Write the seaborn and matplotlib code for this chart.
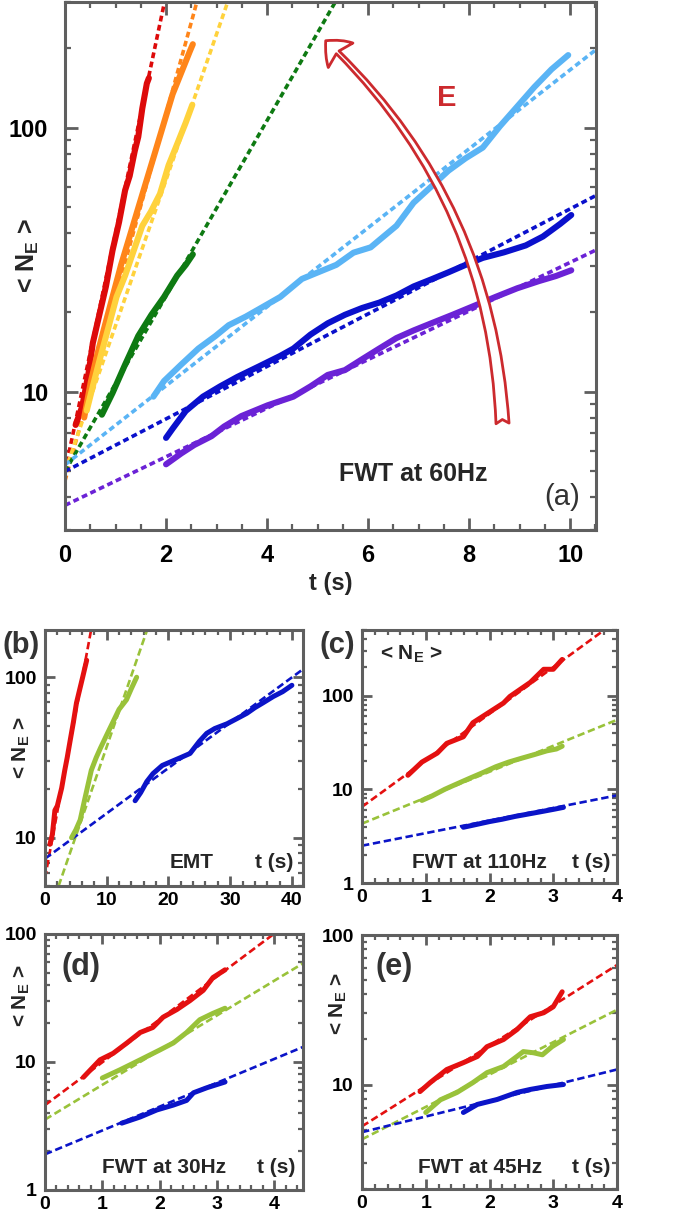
import matplotlib
matplotlib.use("Agg")
import matplotlib.pyplot as plt
from matplotlib.ticker import (MultipleLocator, LogLocator, NullFormatter,
                               FixedLocator, FixedFormatter, FormatStrFormatter)
import seaborn as sns

# ---------------- Panel (a): FWT at 60 Hz ----------------
a_red_t = [0.21, 0.34, 0.47, 0.55, 0.68, 0.81, 0.94, 1.07, 1.19, 1.28, 1.38, 1.45, 1.53, 1.62, 1.66]
a_red_n = [7.5, 8.8, 11.9, 15.3, 19.6, 25.1, 34.3, 44.0, 58.1, 65.8, 81.7, 92.5, 118.6, 147.5, 154.5]
a_orange_t = [0.38, 0.51, 0.64, 0.77, 0.94, 1.11, 1.28, 1.45, 1.62, 1.79, 1.96, 2.13, 2.30, 2.47, 2.53]
a_orange_n = [8.0, 10.9, 13.9, 17.3, 22.9, 30.3, 38.8, 49.8, 63.8, 81.7, 104.8, 134.3, 161.8, 195.0, 207.6]
a_yellow_t = [0.43, 0.55, 0.68, 0.85, 1.02, 1.19, 1.36, 1.53, 1.70, 1.88, 2.05, 2.22, 2.39, 2.52]
a_yellow_n = [8.5, 10.5, 13.1, 17.3, 22.9, 27.6, 34.3, 42.6, 48.2, 56.3, 72.2, 86.9, 104.8, 122.4]
a_green_t = [0.73, 0.94, 1.19, 1.45, 1.71, 1.96, 2.22, 2.39, 2.53]
a_green_n = [8.2, 9.9, 12.7, 16.3, 19.6, 22.9, 27.6, 30.3, 33.2]
a_lblue_t = [1.75, 1.96, 2.30, 2.64, 2.98, 3.24, 3.58, 3.84, 4.26, 4.69, 5.03, 5.37, 5.71, 6.05,
             6.22, 6.56, 6.90, 7.25, 7.59, 7.93, 8.27, 8.61, 8.95, 9.29, 9.63, 9.96]
a_lblue_n = [9.6, 11.0, 12.7, 14.6, 16.3, 17.9, 19.3, 20.6, 22.9, 26.8, 28.5, 30.3, 33.7, 35.3,
             37.6, 42.6, 52.1, 60.0, 68.9, 76.8, 84.3, 101.6, 120.5, 142.9, 166.8, 188.8]
a_blue_t = [2.00, 2.13, 2.39, 2.73, 3.07, 3.41, 3.84, 4.26, 4.52, 4.86, 5.20, 5.54, 5.88, 6.22,
            6.56, 6.90, 7.25, 7.59, 7.93, 8.27, 8.69, 9.12, 9.46, 9.80, 10.02]
a_blue_n = [6.7, 7.26, 8.47, 9.6, 10.5, 11.4, 12.5, 13.7, 14.6, 16.5, 18.2, 19.6, 20.8, 21.8,
            23.2, 25.1, 26.7, 28.4, 30.3, 32.2, 33.8, 35.9, 38.8, 43.3, 46.8]
a_purple_t = [2.00, 2.30, 2.56, 2.90, 3.15, 3.49, 4.01, 4.52, 4.86, 5.20, 5.54, 5.88, 6.22, 6.56,
              6.90, 7.25, 7.67, 8.10, 8.52, 8.95, 9.38, 9.72, 10.02]
a_purple_n = [5.32, 5.85, 6.3, 6.8, 7.4, 8.1, 8.9, 9.6, 10.5, 11.6, 12.1, 13.3, 14.6, 16.0,
              17.1, 18.2, 19.6, 21.2, 22.9, 24.7, 26.3, 27.5, 28.9]
# exponential fits (straight lines in log scale): end points
a_red_fit_t, a_red_fit_n = [0.0, 1.97], [5.0, 300.0]
a_orange_fit_t, a_orange_fit_n = [0.0, 2.61], [4.6, 300.0]
a_yellow_fit_t, a_yellow_fit_n = [0.0, 3.22], [5.0, 300.0]
a_green_fit_t, a_green_fit_n = [0.0, 5.35], [5.0, 300.0]
a_lblue_fit_t, a_lblue_fit_n = [0.0, 10.51], [5.3, 198.0]
a_blue_fit_t, a_blue_fit_n = [0.0, 10.51], [5.0, 55.5]
a_purple_fit_t, a_purple_fit_n = [0.0, 10.51], [3.72, 34.5]

# ---------------- Panel (b): EMT ----------------
b_red_t = [0.8, 1.2, 1.6, 2.0, 2.7, 3.2, 3.6, 4.05, 4.6, 5.1, 5.6, 6.1, 6.75]
b_red_n = [9.1, 10.5, 14.8, 15.8, 20.4, 26.3, 31.6, 39.8, 52.5, 69.2, 83.2, 100.0, 127.6]
b_green_t = [4.3, 5.0, 5.7, 6.5, 7.5, 8.3, 9.0, 10.0, 11.0, 12.0, 13.2, 14.0, 14.85]
b_green_n = [10.0, 11.2, 12.9, 17.8, 26.3, 31.6, 36.3, 43.7, 52.5, 63.1, 72.4, 85.1, 100.0]
b_blue_t = [14.6, 15.5, 16.5, 17.5, 19.0, 20.8, 22.0, 23.5, 25.0, 26.2, 27.5, 29.5, 31.0, 32.7,
            34.0, 35.3, 37.0, 38.5, 40.0]
b_blue_n = [17.0, 19.1, 22.4, 25.1, 28.2, 30.2, 31.6, 33.5, 39.8, 44.7, 47.9, 51.3, 55.0, 59.6,
            64.6, 69.2, 75.9, 81.3, 89.1]
b_red_fit_t, b_red_fit_n = [0.0, 7.5], [5.6, 200.0]
b_green_fit_t, b_green_fit_n = [2.2, 16.6], [5.0, 200.0]
b_blue_fit_t, b_blue_fit_n = [0.0, 41.5], [7.4, 110.0]

# ---------------- Panel (c): FWT at 110 Hz ----------------
c_red_t = [0.72, 0.94, 1.18, 1.33, 1.59, 1.74, 2.06, 2.22, 2.32, 2.64, 2.85, 3.0, 3.14]
c_red_n = [14.1, 19.5, 24.3, 30.9, 36.3, 51.3, 70.8, 83.2, 97.7, 138.0, 190.5, 190.5, 242.7]
c_green_t = [0.94, 1.1, 1.3, 1.5, 1.7, 1.9, 2.1, 2.3, 2.5, 2.7, 2.9, 3.05, 3.14]
c_green_n = [7.6, 8.5, 10.0, 11.5, 13.2, 15.1, 17.4, 19.5, 21.4, 23.4, 25.7, 26.9, 28.8]
c_blue_t = [1.59, 1.8, 2.0, 2.2, 2.4, 2.6, 2.8, 3.0, 3.16]
c_blue_n = [3.93, 4.22, 4.52, 4.79, 5.13, 5.43, 5.75, 6.1, 6.41]
c_red_fit_t, c_red_fit_n = [0.0, 3.8], [6.5, 500.0]
c_green_fit_t, c_green_fit_n = [0.0, 4.0], [4.3, 55.0]
c_blue_fit_t, c_blue_fit_n = [0.0, 4.0], [2.5, 8.6]

# ---------------- Panel (d): FWT at 30 Hz ----------------
d_red_t = [0.67, 0.96, 1.19, 1.43, 1.66, 1.88, 2.06, 2.3, 2.53, 2.76, 2.93, 3.14]
d_red_n = [7.6, 10.4, 11.7, 14.1, 17.0, 18.6, 22.4, 25.7, 30.2, 36.3, 45.7, 52.5]
d_green_t = [1.0, 1.31, 1.66, 2.0, 2.24, 2.47, 2.7, 2.93, 3.14]
d_green_n = [7.5, 8.7, 10.4, 12.4, 14.1, 17.0, 21.4, 24.0, 26.3]
d_blue_t = [1.34, 1.66, 1.95, 2.24, 2.47, 2.59, 2.83, 3.14]
d_blue_n = [3.33, 3.72, 4.22, 4.61, 5.01, 5.75, 6.31, 6.98]
d_red_fit_t, d_red_fit_n = [0.0, 3.99], [4.6, 100.0]
d_green_fit_t, d_green_fit_n = [0.0, 4.5], [3.55, 59.0]
d_blue_fit_t, d_blue_fit_n = [0.0, 4.5], [1.9, 13.1]

# ---------------- Panel (e): FWT at 45 Hz ----------------
e_red_t = [0.91, 1.07, 1.33, 1.59, 1.81, 1.96, 2.22, 2.43, 2.64, 2.85, 3.0, 3.14]
e_red_n = [8.97, 10.3, 12.6, 14.0, 15.4, 17.9, 20.0, 23.3, 28.4, 30.2, 33.1, 41.7]
e_green_t = [1.0, 1.23, 1.49, 1.74, 1.96, 2.22, 2.43, 2.53, 2.69, 2.83, 2.98, 3.16]
e_green_n = [6.5, 7.9, 8.85, 10.3, 12.0, 13.2, 15.4, 16.6, 16.3, 15.8, 17.9, 20.0]
e_blue_t = [1.59, 1.81, 2.12, 2.43, 2.64, 2.9, 3.16]
e_blue_n = [6.5, 7.36, 7.94, 8.85, 9.27, 9.7, 10.0]
e_red_fit_t, e_red_fit_n = [0.0, 4.0], [5.25, 63.0]
e_green_fit_t, e_green_fit_n = [0.0, 4.0], [4.3, 31.6]
e_blue_fit_t, e_blue_fit_n = [0.0, 4.0], [4.8, 12.6]

# ---------------- styling ----------------
sns.set_theme(style="white")
plt.rcParams.update({
    "font.family": ["Liberation Sans", "DejaVu Sans"],
    "font.weight": "bold",
    "mathtext.fontset": "custom",
    "mathtext.rm": "Liberation Sans:bold",
    "mathtext.it": "Liberation Sans:bold",
    "mathtext.bf": "Liberation Sans:bold",
})

SPINE = "#5f5f5f"
RED, ORANGE, YELLOW, GREEN = "#dd0a0a", "#ff8519", "#ffd23c", "#0e7a12"
LBLUE, BLUE, PURPLE = "#5ab4f5", "#0a10cc", "#6b22d6"
S_RED, S_GREEN, S_BLUE = "#e41010", "#99c23a", "#0b14c8"
YLAB = r"< N$_{\mathrm{E}}$ >"

fig = plt.figure(figsize=(6.75, 12.22), dpi=100)


def curve(ax, t, n, color, lw, dashed=False, dash=(2, 1)):
    kw = dict(x=t, y=n, ax=ax, color=color, linewidth=lw, sort=False,
              estimator=None, legend=False)
    if dashed:
        sns.lineplot(**kw, linestyle=(0, dash), zorder=2)
    else:
        sns.lineplot(**kw, solid_capstyle="round", solid_joinstyle="round", zorder=3)


def style(ax, xlim, ylim, xmaj, xmin, yt, ytl, lsize, majlen, minlen, padx, pady):
    ax.set_yscale("log")
    ax.set_xlim(*xlim)
    ax.set_ylim(*ylim)
    ax.xaxis.set_major_locator(MultipleLocator(xmaj))
    ax.xaxis.set_minor_locator(MultipleLocator(xmin))
    ax.xaxis.set_major_formatter(FormatStrFormatter("%d"))
    ax.yaxis.set_major_locator(FixedLocator(yt))
    ax.yaxis.set_major_formatter(FixedFormatter(ytl))
    ax.yaxis.set_minor_locator(LogLocator(base=10, subs=range(2, 10), numticks=30))
    ax.yaxis.set_minor_formatter(NullFormatter())
    for sp in ax.spines.values():
        sp.set_color(SPINE)
        sp.set_linewidth(2.2)
    ax.tick_params(which="major", direction="in", length=majlen, width=2.0, color=SPINE,
                   top=True, right=True, bottom=True, left=True, labelsize=lsize,
                   labelcolor="black")
    ax.tick_params(which="minor", direction="in", length=minlen, width=1.6, color=SPINE,
                   top=True, right=True, bottom=True, left=True)
    ax.tick_params(axis="x", which="major", pad=padx)
    ax.tick_params(axis="y", which="major", pad=pady)
    ax.grid(False)
    ax.set_xlabel("")
    ax.set_ylabel("")


# ---------------- (a) ----------------
axa = fig.add_axes([65 / 675, 1 - 530 / 1222, 531 / 675, 528 / 1222])
for t, n, c in [(a_red_fit_t, a_red_fit_n, RED), (a_orange_fit_t, a_orange_fit_n, ORANGE),
                (a_yellow_fit_t, a_yellow_fit_n, YELLOW), (a_green_fit_t, a_green_fit_n, GREEN),
                (a_lblue_fit_t, a_lblue_fit_n, LBLUE), (a_blue_fit_t, a_blue_fit_n, BLUE),
                (a_purple_fit_t, a_purple_fit_n, PURPLE)]:
    curve(axa, t, n, c, 2.6, dashed=True, dash=(1.6, 1.0))
for t, n, c in [(a_red_t, a_red_n, RED), (a_orange_t, a_orange_n, ORANGE),
                (a_yellow_t, a_yellow_n, YELLOW), (a_green_t, a_green_n, GREEN),
                (a_lblue_t, a_lblue_n, LBLUE), (a_blue_t, a_blue_n, BLUE),
                (a_purple_t, a_purple_n, PURPLE)]:
    curve(axa, t, n, c, 4.4)
style(axa, (0, 10.51), (3.0, 300.0), 2, 0.5, [10, 100], ["10", "100"], 17, 9, 4, 10, 12)
axa.set_xlabel("t (s)", fontsize=17, fontweight="bold", labelpad=4)
axa.set_ylabel(YLAB, fontsize=18, fontweight="bold")
axa.yaxis.set_label_coords(-0.045, 0.52)
axa.text(6.9, 4.9, "FWT at 60Hz", fontsize=18, fontweight="bold", ha="center", va="center")
axa.text(9.83, 4.0, "(a)", fontsize=21, fontweight="normal", color="#333333",
         ha="center", va="center")
axa.text(7.56, 130, "E", fontsize=21, fontweight="bold", color="#cc2a2e",
         ha="center", va="center")
axa.annotate("", xy=(5.16, 214), xytext=(8.66, 7.6), xycoords="data",
             arrowprops=dict(arrowstyle="fancy,head_length=0.75,head_width=1.25,tail_width=0.47",
                             connectionstyle="arc3,rad=0.2", facecolor="white",
                             edgecolor="#cc2a2e", linewidth=2, mutation_scale=20,
                             shrinkA=0, shrinkB=0))

# ---------------- small panels ----------------
SM_TICK = 14
SM_LAB = 15


def small_panel(rect, fits, sols, xlim, ylim, xmaj, xmin, yt, ytl):
    ax = fig.add_axes(rect)
    for t, n, c in fits:
        curve(ax, t, n, c, 1.9, dashed=True, dash=(2.8, 1.4))
    for t, n, c in sols:
        curve(ax, t, n, c, 3.6)
    style(ax, xlim, ylim, xmaj, xmin, yt, ytl, SM_TICK, 7, 3.5, 4, 6)
    return ax


# (b)
axb = small_panel([45 / 675, 1 - 886 / 1222, 258 / 675, 256 / 1222],
                  [(b_red_fit_t, b_red_fit_n, S_RED), (b_green_fit_t, b_green_fit_n, S_GREEN),
                   (b_blue_fit_t, b_blue_fit_n, S_BLUE)],
                  [(b_red_t, b_red_n, S_RED), (b_green_t, b_green_n, S_GREEN),
                   (b_blue_t, b_blue_n, S_BLUE)],
                  (0, 41.8), (5.0, 197.0), 10, 2, [10, 100], ["10", "100"])
axb.set_ylabel(YLAB, fontsize=SM_LAB, fontweight="bold")
axb.yaxis.set_label_coords(-0.05, 0.54)
axb.text(23.8, 7.0, "EMT", fontsize=SM_LAB, fontweight="bold", ha="center", va="center")
axb.text(37.1, 7.0, "t (s)", fontsize=SM_LAB, fontweight="bold", ha="center", va="center")
fig.text(21 / 675, 1 - 645 / 1222, "(b)", fontsize=21, fontweight="bold", color="#333333",
         ha="center", va="center")

# (c)
axc = small_panel([362 / 675, 1 - 883 / 1222, 255 / 675, 253 / 1222],
                  [(c_red_fit_t, c_red_fit_n, S_RED), (c_green_fit_t, c_green_fit_n, S_GREEN),
                   (c_blue_fit_t, c_blue_fit_n, S_BLUE)],
                  [(c_red_t, c_red_n, S_RED), (c_green_t, c_green_n, S_GREEN),
                   (c_blue_t, c_blue_n, S_BLUE)],
                  (0, 4), (1.0, 500.0), 1, 0.2, [1, 10, 100], ["1", "10", "100"])
axc.text(0.77, 277, YLAB, fontsize=SM_LAB, fontweight="bold", ha="center", va="center")
axc.text(1.85, 1.66, "FWT at 110Hz", fontsize=SM_LAB, fontweight="bold", ha="center", va="center")
axc.text(3.6, 1.66, "t (s)", fontsize=SM_LAB, fontweight="bold", ha="center", va="center")
fig.text(337 / 675, 1 - 645 / 1222, "(c)", fontsize=21, fontweight="bold", color="#333333",
         ha="center", va="center")

# (d)
axd = small_panel([45 / 675, 1 - 1190 / 1222, 258 / 675, 256 / 1222],
                  [(d_red_fit_t, d_red_fit_n, S_RED), (d_green_fit_t, d_green_fit_n, S_GREEN),
                   (d_blue_fit_t, d_blue_fit_n, S_BLUE)],
                  [(d_red_t, d_red_n, S_RED), (d_green_t, d_green_n, S_GREEN),
                   (d_blue_t, d_blue_n, S_BLUE)],
                  (0, 4.5), (1.0, 100.0), 1, 0.2, [1, 10, 100], ["1", "10", "100"])
axd.set_ylabel(YLAB, fontsize=SM_LAB, fontweight="bold")
axd.yaxis.set_label_coords(-0.05, 0.76)
axd.text(0.63, 55, "(d)", fontsize=22, fontweight="bold", color="#333333",
         ha="center", va="center")
axd.text(2.08, 1.49, "FWT at 30Hz", fontsize=SM_LAB, fontweight="bold", ha="center", va="center")
axd.text(4.03, 1.49, "t (s)", fontsize=SM_LAB, fontweight="bold", ha="center", va="center")

# (e)
axe = small_panel([362 / 675, 1 - 1189 / 1222, 255 / 675, 254 / 1222],
                  [(e_red_fit_t, e_red_fit_n, S_RED), (e_green_fit_t, e_green_fit_n, S_GREEN),
                   (e_blue_fit_t, e_blue_fit_n, S_BLUE)],
                  [(e_red_t, e_red_n, S_RED), (e_green_t, e_green_n, S_GREEN),
                   (e_blue_t, e_blue_n, S_BLUE)],
                  (0, 4), (2.0, 100.0), 1, 0.2, [10, 100], ["10", "100"])
axe.set_ylabel(YLAB, fontsize=SM_LAB, fontweight="bold")
axe.yaxis.set_label_coords(-0.05, 0.73)
axe.text(0.5, 61, "(e)", fontsize=22, fontweight="bold", color="#333333",
         ha="center", va="center")
axe.text(1.85, 2.8, "FWT at 45Hz", fontsize=SM_LAB, fontweight="bold", ha="center", va="center")
axe.text(3.6, 2.8, "t (s)", fontsize=SM_LAB, fontweight="bold", ha="center", va="center")

fig.savefig("out.png", dpi=100)
